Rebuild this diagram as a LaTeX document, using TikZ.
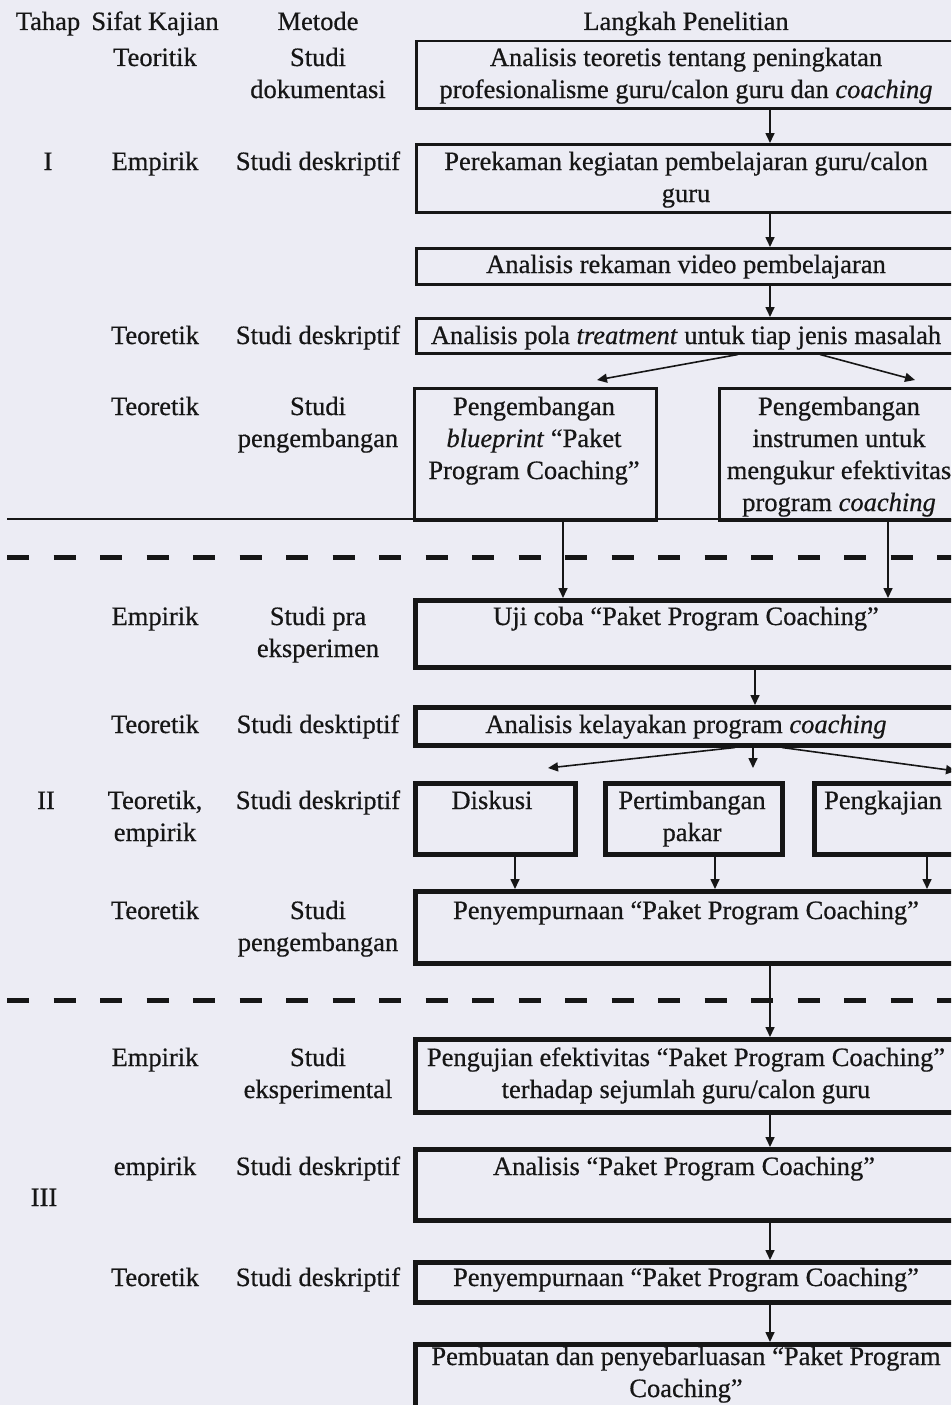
\documentclass[tikz,border=0pt]{standalone}
\usepackage{fontspec}
\setmainfont{Liberation Serif}[FakeBold=0.6]
\usetikzlibrary{arrows.meta,calc}
\definecolor{bg}{HTML}{ECECF4}
\definecolor{ink}{HTML}{161616}
\begin{document}
\begin{tikzpicture}[x=1pt,y=-1pt,
  every node/.style={font=\fontsize{26.5}{32}\selectfont, text=ink},
  txt/.style={anchor=base, align=center, inner sep=0pt},
  boxbase/.style={draw=ink, rectangle, inner sep=0pt, anchor=north west, fill=none},
  thinbox/.style={boxbase, line width=2.5pt},
  thickbox/.style={boxbase, line width=4.5pt},
  arr/.style={draw=ink, line width=1.6pt, -{Triangle[width=9pt,length=10pt]}},
  dashline/.style={draw=ink, line width=5pt, dash pattern=on 22pt off 24.5pt},
  rule/.style={draw=ink, line width=2.5pt}]
\useasboundingbox (0,0) rectangle (951,1405);
\fill[bg] (0,0) rectangle (951,1405);
\clip (0,0) rectangle (951,1405);

% header
\node[txt] (hTahap) at (48,30) {Tahap};
\node[txt] (hSifat) at (155,30) {Sifat Kajian};
\node[txt] (hMetode) at (318,30) {Metode};
\node[txt] (hLangkah) at (686,30) {Langkah Penelitian};

% phase labels
\node[txt] (pI) at (48,170) {I};
\node[txt] (pII) at (46,809) {II};
\node[txt] (pIII) at (44,1206) {III};

% sifat kajian column (multi-line nodes are placed by their last baseline)
\node[txt] (s1) at (155,66) {Teoritik};
\node[txt] (s2) at (155,170) {Empirik};
\node[txt] (s3) at (155,344) {Teoretik};
\node[txt] (s4) at (155,415) {Teoretik};
\node[txt] (s5) at (155,625) {Empirik};
\node[txt] (s6) at (155,733) {Teoretik};
\node[txt] (s7) at (155,841) {Teoretik,\\empirik};
\node[txt] (s8) at (155,919) {Teoretik};
\node[txt] (s9) at (155,1066) {Empirik};
\node[txt] (s10) at (155,1175) {empirik};
\node[txt] (s11) at (155,1286) {Teoretik};

% metode column
\node[txt] (m1) at (318,98) {Studi\\dokumentasi};
\node[txt] (m2) at (318,170) {Studi deskriptif};
\node[txt] (m3) at (318,344) {Studi deskriptif};
\node[txt] (m4) at (318,447) {Studi\\pengembangan};
\node[txt] (m5) at (318,657) {Studi pra\\eksperimen};
\node[txt] (m6) at (318,733) {Studi desktiptif};
\node[txt] (m7) at (318,809) {Studi deskriptif};
\node[txt] (m8) at (318,951) {Studi\\pengembangan};
\node[txt] (m9) at (318,1098) {Studi\\eksperimental};
\node[txt] (m10) at (318,1175) {Studi deskriptif};
\node[txt] (m11) at (318,1286) {Studi deskriptif};

% boxes (phase I)
\node[thinbox, minimum width=545pt, minimum height=67pt] (b1) at (415,40) {};
\node[thinbox, minimum width=545pt, minimum height=68pt] (b2) at (415,143) {};
\node[thinbox, minimum width=545pt, minimum height=36pt] (b3) at (415,247) {};
\node[thinbox, minimum width=545pt, minimum height=35pt] (b4) at (415,317) {};
\node[thinbox, minimum width=242pt, minimum height=132pt] (b5a) at (413,387) {};
\node[thinbox, minimum width=242pt, minimum height=132pt] (b5b) at (718,387) {};

\node[txt] (t1) at (686,98) {Analisis teoretis tentang peningkatan\\profesionalisme guru/calon guru dan \textit{coaching}};
\node[txt] (t2) at (686,202) {Perekaman kegiatan pembelajaran guru/calon\\guru};
\node[txt] (t3) at (686,273) {Analisis rekaman video pembelajaran};
\node[txt] (t4) at (686,344) {Analisis pola \textit{treatment} untuk tiap jenis masalah};
\node[txt] (t5a) at (534,479) {Pengembangan\\\textit{blueprint} “Paket\\Program Coaching”};
\node[txt] (t5b) at (839,511) {Pengembangan\\instrumen untuk\\mengukur efektivitas\\program \textit{coaching}};

% separators
\draw[rule] (7,519) -- (960,519);
\draw[dashline] (7,557) -- (960,557);
\draw[dashline] (7,1000) -- (960,1000);

% boxes (phase II)
\node[thickbox, minimum width=547pt, minimum height=67pt] (b6) at (413,598) {};
\node[thickbox, minimum width=547pt, minimum height=38pt] (b7) at (413,705) {};
\node[thickbox, minimum width=160pt, minimum height=71pt] (b8a) at (413,781) {};
\node[thickbox, minimum width=177pt, minimum height=71pt] (b8b) at (603,781) {};
\node[thickbox, minimum width=148pt, minimum height=71pt] (b8c) at (812,781) {};
\node[thickbox, minimum width=547pt, minimum height=72pt] (b9) at (413,889) {};

\node[txt] (t6) at (686,625) {Uji coba “Paket Program Coaching”};
\node[txt] (t7) at (686,733) {Analisis kelayakan program \textit{coaching}};
\node[txt] (t8a) at (492,809) {Diskusi};
\node[txt] (t8b) at (692,841) {Pertimbangan\\pakar};
\node[txt] (t8c) at (883,809) {Pengkajian};
\node[txt] (t9) at (686,919) {Penyempurnaan “Paket Program Coaching”};

% boxes (phase III)
\node[thickbox, minimum width=547pt, minimum height=73pt] (b10) at (413,1037) {};
\node[thickbox, minimum width=547pt, minimum height=71pt] (b11) at (413,1147) {};
\node[thickbox, minimum width=547pt, minimum height=40pt] (b12) at (413,1260) {};
\node[thickbox, minimum width=547pt, minimum height=80pt] (b13) at (413,1342) {};

\node[txt] (t10) at (686,1098) {Pengujian efektivitas “Paket Program Coaching”\\terhadap sejumlah guru/calon guru};
\node[txt] (t11) at (684,1175) {Analisis “Paket Program Coaching”};
\node[txt] (t12) at (686,1286) {Penyempurnaan “Paket Program Coaching”};
\node[txt] (t13) at (686,1397) {Pembuatan dan penyebarluasan “Paket Program\\Coaching”};

% arrow columns
\coordinate (ax) at (770,0);
\coordinate (ax6) at (755,0);
\coordinate (ax7) at (753,0);
\coordinate (axa) at (563,0);
\coordinate (axb) at (888,0);
\coordinate (axd) at (515,0);
\coordinate (axe) at (715,0);
\coordinate (axf) at (927,0);

% connectors phase I
\draw[arr] (b1.south -| ax) -- (b2.north -| ax);
\draw[arr] (b2.south -| ax) -- (b3.north -| ax);
\draw[arr] (b3.south -| ax) -- (b4.north -| ax);
\draw[arr] ([xshift=323pt]b4.south west) -- ([xshift=184pt,yshift=7pt]b5a.north west);
\draw[arr] ([xshift=405pt]b4.south west) -- ([xshift=197pt,yshift=7pt]b5b.north west);
\draw[arr] (b5a.south -| axa) -- (b6.north -| axa);
\draw[arr] (b5b.south -| axb) -- (b6.north -| axb);

% connectors phase II
\draw[arr] (b6.south -| ax6) -- (b7.north -| ax6);
\draw[arr] ([xshift=322pt]b7.south west) -- ([xshift=135pt,yshift=13pt]b8a.north west);
\draw[arr] (b7.south -| ax7) -- ([yshift=13pt]b8b.north -| ax7);
\draw[arr] ([xshift=369pt]b7.south west) -- ([xshift=144pt,yshift=10pt]b8c.north west);
\draw[arr] (b8a.south -| axd) -- (b9.north -| axd);
\draw[arr] (b8b.south -| axe) -- (b9.north -| axe);
\draw[arr] (b8c.south -| axf) -- (b9.north -| axf);
\draw[arr] (b9.south -| ax) -- (b10.north -| ax);

% connectors phase III
\draw[arr] (b10.south -| ax) -- (b11.north -| ax);
\draw[arr] (b11.south -| ax) -- (b12.north -| ax);
\draw[arr] (b12.south -| ax) -- (b13.north -| ax);
\end{tikzpicture}
\end{document}
